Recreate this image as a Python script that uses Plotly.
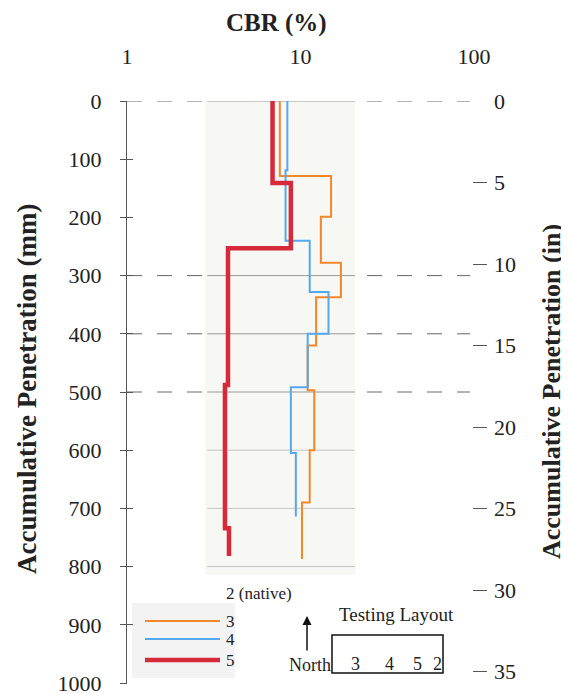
import plotly.graph_objects as go

# ---------------- data ----------------
depth_3 = [0, 129, 199, 278, 337, 420, 497, 600, 690, 787]
cbr_3 = [7.6, 15.0, 13.1, 17.1, 12.3, 11.0, 12.0, 11.3, 10.2, 10.2]

depth_4 = [0, 119, 240, 328, 400, 492, 605, 714]
cbr_4 = [8.4, 8.2, 11.3, 14.5, 11.0, 8.8, 9.4, 9.4]

depth_5 = [0, 141, 253, 488, 734, 782]
cbr_5 = [6.9, 8.8, 3.82, 3.67, 3.87, 3.87]

x_tickvals = [1, 10, 100]
x_ticktext = ["1", "10", "100"]
mm_ticks = list(range(0, 1001, 100))
in_ticks = list(range(0, 36, 5))
grid_dashed_mm = [0, 300, 400, 500]
grid_inner_mm = [0, 300, 400, 500, 600, 700, 800]
layout_numbers = ["3", "4", "5", "2"]

# ---------------- geometry (pixels, reference coords) ----------------
OFF = 8                       # page body margin
W, H = 569 - OFF, 694 - OFF
L, R, T, B = 127, 487, 101, 684   # plot area in reference px
PW, PH = R - L, B - T
MM_MAX = PH / 0.582               # mm at bottom edge of plot area


def px(X):
    return (X - L) / PW


def py(Y):
    return (B - Y) / PH


SERIF = "Liberation Serif, Times New Roman, serif"
C3, C4, C5 = "#f0882c", "#56a8ee", "#d42a3a"

fig = go.Figure()
fig.add_trace(go.Scatter(x=cbr_3, y=depth_3, mode="lines", name="3",
                         line=dict(color=C3, width=2, shape="vh"), showlegend=False))
fig.add_trace(go.Scatter(x=cbr_4, y=depth_4, mode="lines", name="4",
                         line=dict(color=C4, width=2, shape="vh"), showlegend=False))
fig.add_trace(go.Scatter(x=cbr_5, y=depth_5, mode="lines", name="5",
                         line=dict(color=C5, width=4.5, shape="vh"), showlegend=False))
fig.add_trace(go.Scatter(x=[None], y=[None], yaxis="y2", showlegend=False, hoverinfo="skip"))
fig.add_trace(go.Scatter(x=[None], y=[None], yaxis="y3", showlegend=False, hoverinfo="skip"))

shapes = []
shapes.append(dict(type="rect", xref="x", yref="y", x0=2.82, x1=20.6, y0=-22, y1=814,
                   fillcolor="#f7f7f4", line=dict(width=0), layer="below"))
for g in grid_dashed_mm:
    shapes.append(dict(type="line", xref="paper", yref="y", x0=0, x1=px(470), y0=g, y1=g,
                       line=dict(color="#666", width=1, dash="longdash"), layer="below"))
for g in grid_inner_mm:
    shapes.append(dict(type="line", xref="x", yref="y", x0=2.9, x1=20.6, y0=g, y1=g,
                       line=dict(color="#999" if g <= 500 else "#c4c4c4", width=1),
                       layer="below"))

# manual legend
shapes.append(dict(type="rect", xref="paper", yref="paper", x0=px(132), x1=px(235),
                   y0=py(678), y1=py(603), fillcolor="#f3f3f3", line=dict(width=0), layer="below"))
for yy, col, wd in [(621, C3, 2), (639, C4, 2), (660, C5, 4.5)]:
    shapes.append(dict(type="line", xref="paper", yref="paper", x0=px(145), x1=px(220),
                       y0=py(yy), y1=py(yy), line=dict(color=col, width=wd)))
# testing layout box
shapes.append(dict(type="rect", xref="paper", yref="paper", x0=px(332), x1=px(443),
                   y0=py(673), y1=py(635), line=dict(color="#111", width=1.5)))

ann = []
ann.append(dict(text="<b>CBR (%)</b>", x=px(276), y=py(23), xref="paper", yref="paper",
                showarrow=False, font=dict(family=SERIF, size=25, color="#222"),
                xanchor="center", yanchor="middle"))
ann.append(dict(text="<b>Accumulative Penetration (mm)</b>", x=px(27), y=py(389),
                xref="paper", yref="paper", showarrow=False, textangle=-90,
                font=dict(family=SERIF, size=27, color="#222"), xanchor="center", yanchor="middle"))
ann.append(dict(text="<b>Accumulative Penetration (in)</b>", x=px(551), y=py(392),
                xref="paper", yref="paper", showarrow=False, textangle=-90,
                font=dict(family=SERIF, size=26, color="#222"), xanchor="center", yanchor="middle"))
for txt, yy in [("2 (native)", 593), ("3", 621), ("4", 639), ("5", 660)]:
    ann.append(dict(text=txt, x=px(224), y=py(yy), xref="paper", yref="paper", showarrow=False,
                    font=dict(family=SERIF, size=17, color="#222"), xanchor="left", yanchor="middle"))
ann.append(dict(text="Testing Layout", x=px(396), y=py(614), xref="paper", yref="paper",
                showarrow=False, font=dict(family=SERIF, size=19, color="#222"),
                xanchor="center", yanchor="middle"))
ann.append(dict(text="North", x=px(287), y=py(665), xref="paper", yref="paper",
                showarrow=False, font=dict(family=SERIF, size=18, color="#222"),
                xanchor="left", yanchor="middle"))
for txt, xx in zip(layout_numbers, [355, 389, 417, 437]):
    ann.append(dict(text=txt, x=px(xx), y=py(664), xref="paper", yref="paper",
                    showarrow=False, font=dict(family=SERIF, size=18, color="#222"),
                    xanchor="center", yanchor="middle"))
ann.append(dict(text="", x=px(307), y=py(616), xref="paper", yref="paper", showarrow=True,
                ax=0, ay=36, arrowhead=2, arrowsize=1.2, arrowwidth=1.5, arrowcolor="#111"))

fig.update_layout(
    width=W, height=H, autosize=False,
    margin=dict(l=L - OFF, r=569 - R, t=T - OFF, b=694 - B, autoexpand=False),
    paper_bgcolor="white", plot_bgcolor="white",
    font=dict(family=SERIF, size=22, color="#222"),
    shapes=shapes, annotations=ann,
    xaxis=dict(type="log", side="top", range=[0, (R - L) / 173.5],
               tickvals=x_tickvals, ticktext=x_ticktext, ticks="", showline=False,
               showgrid=False, zeroline=False, ticklabelstandoff=32, automargin=False,
               tickfont=dict(family=SERIF, size=22, color="#222")),
    yaxis=dict(range=[MM_MAX, 0], tickvals=mm_ticks, ticks="outside", ticklen=6,
               tickcolor="#555", showline=True, linecolor="#555", linewidth=1,
               showgrid=False, zeroline=False, ticklabelstandoff=14,
               ticklabeloverflow="allow", automargin=False,
               tickfont=dict(family=SERIF, size=22, color="#222")),
    yaxis3=dict(range=[MM_MAX, 0], overlaying="y", side="left", tickvals=mm_ticks,
                ticks="inside", ticklen=6, tickcolor="#555", showticklabels=False,
                showgrid=False, zeroline=False, showline=False, automargin=False),
    yaxis2=dict(range=[PH / 16.3, 0], overlaying="y", side="right", anchor="x",
                tickvals=in_ticks, ticks="inside", ticklen=14, tickcolor="#555",
                showline=False, showgrid=False, zeroline=False, ticklabelstandoff=6,
                ticklabeloverflow="allow", automargin=False,
                tickfont=dict(family=SERIF, size=22, color="#222")),
)

fig.write_html("out.html")
